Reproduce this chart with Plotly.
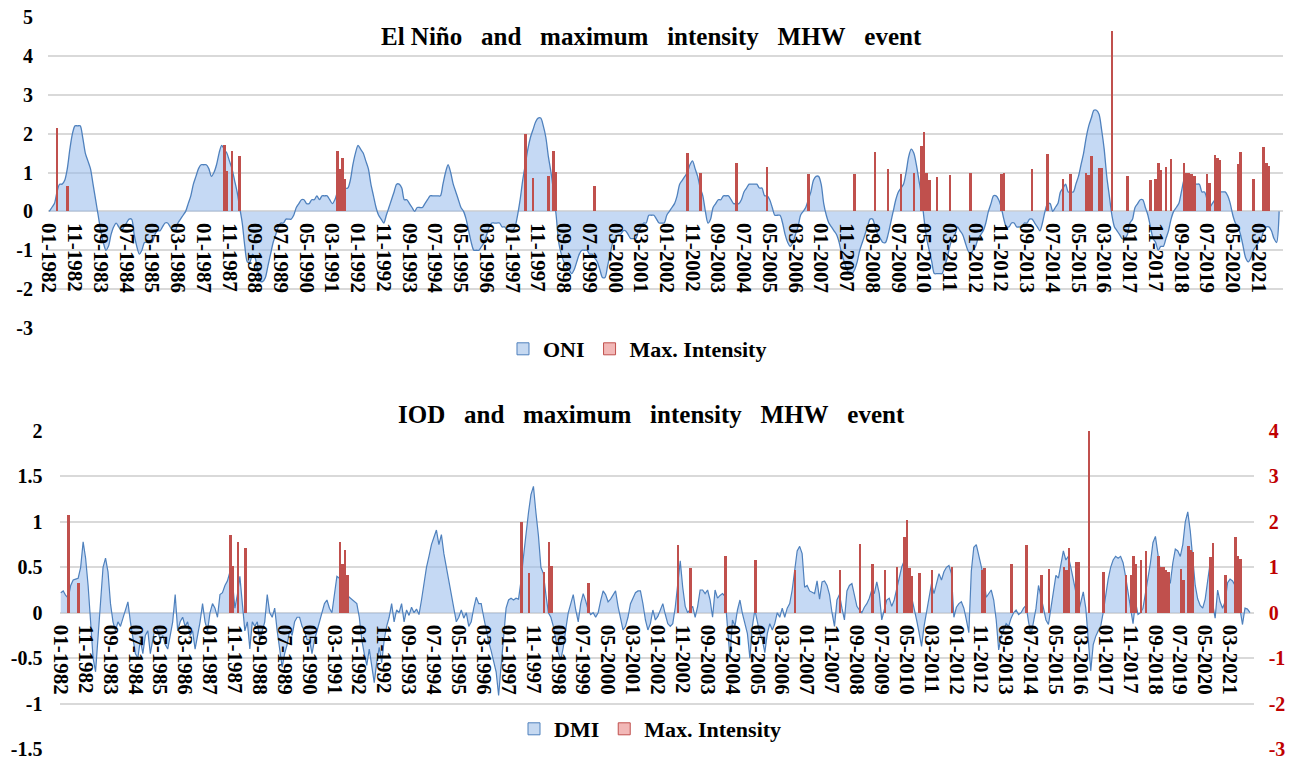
import plotly.graph_objects as go

# ---------------- data ----------------
years = list(range(1982, 2022))
months = [f"{m:02d}-{y}" for y in years for m in range(1, 13)]
tick_labels = months[::10]

# Oceanic Nino Index, one row per year (Jan..Dec)
oni_by_year = [
    [0.0, 0.1, 0.2, 0.5, 0.7, 0.7, 0.8, 1.1, 1.6, 2.0, 2.2, 2.2],
    [2.2, 1.9, 1.5, 1.3, 1.1, 0.7, 0.3, -0.1, -0.5, -0.8, -1.0, -0.9],
    [-0.6, -0.4, -0.3, -0.4, -0.5, -0.4, -0.3, -0.2, -0.2, -0.6, -0.9, -1.1],
    [-1.0, -0.8, -0.8, -0.8, -0.8, -0.6, -0.5, -0.5, -0.4, -0.3, -0.3, -0.4],
    [-0.5, -0.5, -0.3, -0.2, -0.1, 0.0, 0.2, 0.4, 0.7, 0.9, 1.1, 1.2],
    [1.2, 1.2, 1.1, 0.9, 1.0, 1.2, 1.5, 1.7, 1.6, 1.5, 1.3, 1.1],
    [0.8, 0.5, 0.1, -0.3, -0.9, -1.3, -1.3, -1.1, -1.2, -1.5, -1.8, -1.8],
    [-1.7, -1.4, -1.1, -0.8, -0.6, -0.4, -0.3, -0.3, -0.2, -0.2, -0.2, -0.1],
    [0.1, 0.2, 0.3, 0.3, 0.2, 0.2, 0.3, 0.3, 0.4, 0.3, 0.4, 0.4],
    [0.4, 0.3, 0.2, 0.3, 0.5, 0.6, 0.7, 0.6, 0.6, 0.8, 1.2, 1.5],
    [1.7, 1.6, 1.5, 1.3, 1.1, 0.7, 0.4, 0.1, -0.1, -0.2, -0.3, -0.1],
    [0.1, 0.3, 0.5, 0.7, 0.7, 0.6, 0.3, 0.3, 0.2, 0.1, 0.0, 0.1],
    [0.1, 0.1, 0.2, 0.3, 0.4, 0.4, 0.4, 0.4, 0.4, 0.7, 1.0, 1.2],
    [1.0, 0.7, 0.5, 0.3, 0.1, 0.0, -0.2, -0.5, -0.8, -1.0, -1.0, -1.0],
    [-0.9, -0.8, -0.6, -0.4, -0.3, -0.3, -0.3, -0.3, -0.4, -0.4, -0.5, -0.5],
    [-0.5, -0.4, -0.1, 0.3, 0.8, 1.2, 1.6, 1.9, 2.1, 2.3, 2.4, 2.4],
    [2.2, 1.9, 1.4, 1.0, 0.5, -0.1, -0.8, -1.1, -1.3, -1.4, -1.5, -1.6],
    [-1.5, -1.3, -1.1, -1.0, -1.0, -1.0, -1.1, -1.1, -1.2, -1.3, -1.5, -1.7],
    [-1.7, -1.4, -1.1, -0.8, -0.7, -0.6, -0.6, -0.5, -0.5, -0.6, -0.7, -0.7],
    [-0.7, -0.5, -0.4, -0.3, -0.3, -0.1, -0.1, -0.1, -0.2, -0.3, -0.3, -0.3],
    [-0.1, 0.0, 0.1, 0.2, 0.4, 0.7, 0.8, 0.9, 1.0, 1.2, 1.3, 1.1],
    [0.9, 0.6, 0.4, 0.0, -0.3, -0.2, 0.1, 0.2, 0.3, 0.3, 0.4, 0.4],
    [0.4, 0.3, 0.2, 0.2, 0.2, 0.3, 0.5, 0.6, 0.7, 0.7, 0.7, 0.7],
    [0.6, 0.6, 0.4, 0.4, 0.3, 0.1, -0.1, -0.1, -0.1, -0.3, -0.6, -0.8],
    [-0.9, -0.8, -0.6, -0.4, -0.1, 0.0, 0.1, 0.3, 0.5, 0.8, 0.9, 0.9],
    [0.7, 0.2, -0.1, -0.3, -0.4, -0.5, -0.6, -0.8, -1.1, -1.3, -1.5, -1.6],
    [-1.6, -1.5, -1.3, -1.0, -0.8, -0.6, -0.4, -0.2, -0.2, -0.4, -0.6, -0.7],
    [-0.8, -0.8, -0.6, -0.3, 0.0, 0.3, 0.5, 0.6, 0.7, 1.0, 1.4, 1.6],
    [1.5, 1.2, 0.8, 0.4, -0.2, -0.7, -1.0, -1.3, -1.6, -1.6, -1.6, -1.6],
    [-1.4, -1.2, -0.9, -0.7, -0.6, -0.4, -0.5, -0.6, -0.8, -1.0, -1.1, -1.0],
    [-0.9, -0.7, -0.6, -0.5, -0.3, 0.0, 0.2, 0.4, 0.4, 0.3, 0.1, -0.2],
    [-0.4, -0.4, -0.3, -0.3, -0.4, -0.4, -0.4, -0.3, -0.3, -0.2, -0.2, -0.3],
    [-0.4, -0.5, -0.3, 0.0, 0.2, 0.2, 0.0, 0.1, 0.2, 0.5, 0.6, 0.7],
    [0.5, 0.5, 0.5, 0.7, 0.9, 1.2, 1.5, 1.9, 2.2, 2.4, 2.6, 2.6],
    [2.5, 2.1, 1.6, 0.9, 0.4, -0.1, -0.4, -0.5, -0.6, -0.7, -0.7, -0.6],
    [-0.3, -0.2, 0.1, 0.2, 0.3, 0.3, 0.1, -0.1, -0.4, -0.7, -0.8, -1.0],
    [-0.9, -0.9, -0.7, -0.5, -0.2, 0.0, 0.1, 0.2, 0.5, 0.8, 0.9, 0.8],
    [0.7, 0.7, 0.7, 0.7, 0.5, 0.5, 0.3, 0.1, 0.2, 0.3, 0.5, 0.5],
    [0.5, 0.5, 0.4, 0.2, -0.1, -0.3, -0.4, -0.6, -0.9, -1.2, -1.3, -1.2],
    [-1.0, -0.9, -0.8, -0.7, -0.5, -0.4, -0.4, -0.5, -0.7, -0.8, 0.0],
]

# Dipole Mode Index, one row per year (Jan..Dec)
dmi_by_year = [
    [0.22, 0.24, 0.19, 0.16, 0.30, 0.36, 0.37, 0.38, 0.50, 0.78, 0.60, 0.30],
    [-0.10, -0.50, -0.65, -0.30, 0.10, 0.50, 0.60, 0.45, 0.10, -0.10, -0.20, -0.10],
    [-0.15, -0.05, 0.05, 0.12, -0.10, -0.30, -0.45, -0.50, -0.30, -0.45, -0.25, -0.20],
    [-0.45, -0.30, -0.15, -0.20, -0.30, -0.25, -0.35, -0.40, -0.25, -0.10, 0.20, -0.20],
    [-0.10, -0.05, -0.15, -0.10, -0.25, -0.20, -0.40, -0.25, -0.10, 0.10, -0.10, -0.20],
    [0.00, 0.10, 0.05, -0.05, 0.20, 0.22, 0.30, 0.35, 0.45, 0.35, 0.05, 0.20],
    [0.40, 0.10, -0.20, -0.10, -0.40, -0.10, -0.15, -0.10, -0.30, -0.20, -0.10, 0.20],
    [0.00, -0.05, 0.05, -0.20, -0.40, -0.60, -0.45, -0.35, -0.20, -0.25, -0.10, -0.05],
    [-0.05, -0.15, -0.20, -0.30, -0.30, -0.45, -0.30, -0.20, -0.10, 0.00, 0.10, 0.14],
    [0.05, 0.00, 0.20, 0.40, 0.38, 0.35, 0.25, 0.20, 0.17, 0.15, 0.12, 0.10],
    [-0.05, -0.30, -0.45, -0.58, -0.40, -0.60, -0.77, -0.55, -0.38, -0.55, -0.30, -0.15],
    [-0.05, 0.10, -0.10, 0.03, 0.00, 0.10, -0.10, 0.03, -0.03, 0.06, 0.00, 0.04],
    [-0.02, 0.14, 0.32, 0.50, 0.62, 0.75, 0.83, 0.91, 0.75, 0.86, 0.65, 0.50],
    [0.35, 0.23, 0.05, -0.10, -0.05, 0.03, -0.06, 0.00, -0.15, -0.10, 0.05, 0.17],
    [0.10, 0.10, -0.05, -0.20, -0.32, -0.42, -0.55, -0.65, -0.91, -0.60, -0.25, 0.05],
    [0.14, 0.16, 0.14, 0.16, 0.15, 0.35, 0.62, 0.90, 1.10, 1.30, 1.39, 1.10],
    [0.85, 0.50, 0.43, 0.20, 0.00, -0.05, -0.15, -0.30, -0.44, -0.52, -0.38, -0.18],
    [0.00, 0.10, 0.20, 0.03, -0.10, 0.10, 0.21, 0.13, 0.03, -0.02, 0.00, -0.05],
    [0.00, 0.13, 0.24, 0.20, 0.12, 0.15, 0.20, 0.24, 0.07, -0.08, -0.19, -0.15],
    [-0.05, 0.10, 0.17, 0.22, 0.24, 0.24, 0.10, -0.08, -0.19, -0.12, 0.03, -0.08],
    [-0.04, 0.03, 0.10, -0.02, -0.12, -0.15, -0.12, 0.06, 0.30, 0.57, 0.28, 0.07],
    [0.00, 0.03, 0.07, -0.05, 0.07, 0.25, 0.25, 0.21, 0.25, 0.14, -0.05, 0.25],
    [0.16, 0.19, 0.21, 0.18, -0.20, -0.50, -0.08, -0.15, 0.03, 0.14, -0.01, -0.12],
    [-0.23, -0.50, -0.15, 0.03, -0.12, -0.23, -0.30, -0.44, -0.23, -0.12, -0.19, -0.12],
    [0.00, -0.05, 0.05, -0.05, 0.05, 0.10, 0.25, 0.45, 0.68, 0.73, 0.65, 0.28],
    [0.30, 0.24, 0.22, 0.21, 0.35, 0.15, 0.34, 0.35, 0.30, 0.20, 0.00, -0.15],
    [0.14, 0.20, 0.05, -0.08, 0.24, 0.30, 0.32, 0.20, 0.07, 0.03, 0.00, 0.06],
    [0.10, 0.16, 0.25, 0.21, 0.34, 0.21, -0.08, 0.03, 0.14, 0.16, 0.07, 0.14],
    [0.25, 0.36, 0.50, 0.57, 0.39, 0.25, 0.17, 0.06, -0.08, -0.22, -0.37, -0.15],
    [0.00, 0.17, 0.32, 0.21, 0.32, 0.43, 0.36, 0.45, 0.50, 0.52, 0.43, -0.05],
    [0.06, 0.10, 0.12, 0.05, -0.08, -0.22, 0.46, 0.72, 0.75, 0.64, 0.50, 0.39],
    [0.17, 0.21, 0.25, 0.14, -0.08, -0.41, -0.26, -0.19, -0.12, -0.15, -0.06, 0.00],
    [0.03, -0.02, 0.00, 0.05, 0.08, -0.10, -0.24, -0.10, 0.05, 0.30, 0.19, 0.05],
    [-0.08, -0.13, 0.05, 0.25, 0.41, 0.38, 0.52, 0.68, 0.58, 0.62, 0.50, 0.37],
    [0.23, 0.00, 0.12, 0.23, 0.05, -0.25, -0.64, -0.35, -0.26, -0.20, -0.15, 0.00],
    [0.19, 0.37, 0.50, 0.58, 0.62, 0.60, 0.62, 0.55, 0.40, 0.20, 0.05, -0.12],
    [0.12, -0.02, 0.00, 0.05, 0.20, 0.38, 0.55, 0.77, 0.84, 0.65, 0.45, 0.37],
    [0.33, 0.30, 0.33, 0.55, 0.70, 0.68, 0.62, 0.75, 1.00, 1.11, 0.90, 0.55],
    [0.30, 0.15, 0.08, 0.05, 0.15, 0.35, 0.55, 0.10, -0.06, 0.25, 0.12, 0.05],
    [0.12, 0.33, 0.37, 0.35, 0.30, 0.15, 0.04, -0.13, 0.05, 0.04, 0.00],
]

# Maximum-intensity MHW events
event_months = [
    "04-1982", "08-1982", "09-1987", "10-1987", "12-1987", "03-1988",
    "05-1991", "06-1991", "07-1991", "08-1991",
    "06-1997", "09-1997", "03-1998", "05-1998", "06-1998", "09-1999",
    "09-2002", "02-2003", "04-2004", "04-2005", "08-2006", "02-2008",
    "10-2008", "03-2009", "08-2009", "01-2010", "04-2010", "05-2010",
    "06-2010", "07-2010", "10-2010", "03-2011", "11-2011", "11-2012",
    "12-2012", "11-2013", "05-2014", "11-2014", "02-2015", "08-2015",
    "09-2015", "10-2015", "01-2016", "02-2016", "06-2016", "12-2016",
    "09-2017", "11-2017", "12-2017", "01-2018", "03-2018", "05-2018",
    "10-2018", "11-2018", "12-2018", "01-2019", "02-2019", "07-2019",
    "08-2019", "10-2019", "11-2019", "12-2019", "07-2020", "08-2020",
    "01-2021", "05-2021", "06-2021", "07-2021",
]
event_intensity = [
    2.15, 0.66, 1.70, 1.03, 1.56, 1.42,
    1.56, 1.08, 1.38, 0.84,
    2.00, 0.87, 0.90, 1.56, 1.02, 0.66,
    1.50, 0.98, 1.24, 1.15, 0.95, 0.95,
    1.52, 1.08, 0.95, 1.00, 1.67, 2.04,
    0.98, 0.80, 0.88, 0.94, 1.00, 0.95,
    0.98, 1.08, 1.48, 0.83, 0.97, 1.00,
    0.94, 1.42, 1.11, 1.11, 4.63, 0.90,
    0.82, 0.84, 1.24, 1.07, 1.15, 1.35,
    1.25, 1.00, 1.00, 0.95, 0.90, 0.97,
    0.73, 1.46, 1.37, 1.33, 1.22, 1.53,
    0.83, 1.66, 1.24, 1.18,
]

left_ticks_bottom = [-1.5, -1, -0.5, 0, 0.5, 1, 1.5, 2]
right_ticks_bottom = [-3, -2, -1, 0, 1, 2, 3, 4]
left_ticks_top = [-3, -2, -1, 0, 1, 2, 3, 4, 5]

oni = [v for row in oni_by_year for v in row]
dmi = [v for row in dmi_by_year for v in row]

# ---------------- style ----------------
W, H = 1301, 762
FONT = "Liberation Serif"
BLUE_LINE = "#4f81bd"
BLUE_FILL = "rgba(150,185,235,0.55)"
LEGEND_BLUE = "#c6d9f1"
LEGEND_RED = "#f2b8b7"
RED = "#c0504d"
GRID = "#d9d9d9"

# bottom panel vertical extent (px from top) and its zero line
B_TOP, B_BOT = 431, 749
B_ZERO = B_BOT - (B_BOT - B_TOP) * 1.5 / 3.5


def py(px):
    return 1 - px / H


def lab(v):
    return ("%g" % v).replace("\u2212", "-")


fig = go.Figure()

# top panel
fig.add_trace(go.Scatter(
    x=months[:len(oni)], y=oni, name="ONI", mode="lines",
    fill="tozeroy", fillcolor=BLUE_FILL, showlegend=False,
    line=dict(color=BLUE_LINE, width=1.3, shape="spline", smoothing=0.8),
    xaxis="x", yaxis="y", hoverinfo="skip"))
fig.add_trace(go.Bar(
    x=event_months, y=event_intensity, name="Max. Intensity",
    marker=dict(color=RED, line=dict(width=0)), showlegend=False,
    xaxis="x", yaxis="y3"))
# legend entries (square swatches as in the original)
fig.add_trace(go.Bar(x=[None], y=[None], name="ONI", xaxis="x", yaxis="y3",
                     marker=dict(color=LEGEND_BLUE, line=dict(color=BLUE_LINE, width=1)),
                     legend="legend"))
fig.add_trace(go.Bar(x=[None], y=[None], name="Max. Intensity", xaxis="x", yaxis="y3",
                     marker=dict(color=LEGEND_RED, line=dict(color=RED, width=1)),
                     legend="legend"))

# bottom panel
fig.add_trace(go.Scatter(
    x=months[:len(dmi)], y=dmi, name="DMI", mode="lines",
    fill="tozeroy", fillcolor=BLUE_FILL, showlegend=False,
    line=dict(color=BLUE_LINE, width=1.2),
    xaxis="x2", yaxis="y2", hoverinfo="skip"))
fig.add_trace(go.Bar(
    x=event_months, y=event_intensity, name="Max. Intensity",
    marker=dict(color=RED, line=dict(width=0)), showlegend=False,
    xaxis="x2", yaxis="y4"))
fig.add_trace(go.Bar(x=[None], y=[None], name="DMI", xaxis="x2", yaxis="y4",
                     marker=dict(color=LEGEND_BLUE, line=dict(color=BLUE_LINE, width=1)),
                     legend="legend2"))
fig.add_trace(go.Bar(x=[None], y=[None], name="Max. Intensity", xaxis="x2", yaxis="y4",
                     marker=dict(color=LEGEND_RED, line=dict(color=RED, width=1)),
                     legend="legend2"))

tickfont = dict(family=FONT, size=20, color="black", weight="bold")
xtickfont = dict(family=FONT, size=21, color="black", weight="bold")

xcommon = dict(
    type="category", categoryorder="array", categoryarray=months,
    range=[-0.5, 479.5], tickmode="array", tickvals=tick_labels,
    ticktext=tick_labels, tickangle=90, showgrid=False, zeroline=False,
    showline=False, ticks="", tickfont=xtickfont, anchor="free",
    ticklabeloverflow="allow",
)

gap = "\u00a0\u00a0\u00a0"
title_top = gap.join(["El Niño", "and", "maximum", "intensity", "MHW", "event"])
title_bot = gap.join(["IOD", "and", "maximum", "intensity", "MHW", "event"])
legend_font = dict(family=FONT, size=22, color="black", weight="bold")

fig.update_layout(
    width=W, height=H, autosize=False,
    margin=dict(l=0, r=0, t=0, b=0, pad=0, autoexpand=False),
    paper_bgcolor="white", plot_bgcolor="white",
    bargap=0.0, barmode="overlay", showlegend=True,
    xaxis=dict(xcommon, domain=[48 / W, 1283 / W], position=py(211),
               ticklabelstandoff=11),
    yaxis=dict(domain=[py(328), py(17)], anchor="x", range=[-3, 5],
               tickmode="array", tickvals=left_ticks_top,
               ticktext=[lab(v) for v in left_ticks_top],
               showgrid=True, gridcolor=GRID, gridwidth=1.5,
               zeroline=True, zerolinecolor=GRID, zerolinewidth=1.5,
               showline=False, ticks="", tickfont=tickfont,
               ticklabelstandoff=14, ticklabeloverflow="allow"),
    yaxis3=dict(overlaying="y", anchor="x", range=[-3, 5], visible=False),
    xaxis2=dict(xcommon, domain=[59.5 / W, 1253.7 / W], position=py(B_ZERO),
                ticklabelstandoff=11),
    yaxis2=dict(domain=[py(B_BOT), py(B_TOP)], anchor="x2", range=[-1.5, 2],
                tickmode="array", tickvals=left_ticks_bottom,
                ticktext=[lab(v) for v in left_ticks_bottom],
                showgrid=True, gridcolor=GRID, gridwidth=1.5,
                zeroline=True, zerolinecolor=GRID, zerolinewidth=1.5,
                showline=False, ticks="", tickfont=tickfont,
                ticklabelstandoff=16, ticklabeloverflow="allow"),
    yaxis4=dict(overlaying="y2", anchor="x2", side="right", range=[-3, 4],
                tickmode="array", tickvals=right_ticks_bottom,
                ticktext=[lab(v) for v in right_ticks_bottom],
                showgrid=False, zeroline=False, showline=False, ticks="",
                tickfont=dict(family=FONT, size=20, color="#c00000", weight="bold"),
                ticklabelstandoff=14, ticklabeloverflow="allow"),
    legend=dict(orientation="h", x=0.49, xanchor="center", y=py(349),
                yanchor="middle", bgcolor="rgba(0,0,0,0)", itemwidth=30,
                font=legend_font),
    legend2=dict(orientation="h", x=0.5, xanchor="center", y=py(729),
                 yanchor="middle", bgcolor="rgba(0,0,0,0)", itemwidth=30,
                 font=legend_font),
    annotations=[
        dict(text=title_top, xref="paper", yref="paper", x=651 / W, y=py(36),
             xanchor="center", yanchor="middle", showarrow=False,
             font=dict(family=FONT, size=25, color="black", weight="bold")),
        dict(text=title_bot, xref="paper", yref="paper", x=651 / W, y=py(414),
             xanchor="center", yanchor="middle", showarrow=False,
             font=dict(family=FONT, size=25, color="black", weight="bold")),
    ],
)

fig.write_html("out.html")
